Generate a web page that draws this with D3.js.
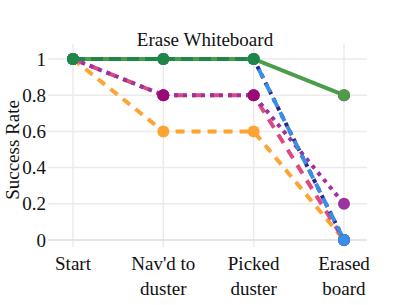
<!DOCTYPE html>
<html>
<head>
<meta charset="utf-8">
<script src="https://cdn.jsdelivr.net/npm/d3@7"></script>
<style>
  body { margin: 0; background: #fff; }
  text { font-family: "Liberation Serif", "Times New Roman", serif; fill: #111; }
</style>
</head>
<body>
<div id="chart"></div>
<script>
// chart size
const width = 407;
const height = 305;

// data
const categories = ["Start", "Nav'd to duster", "Picked duster", "Erased board"];
const orangeValues = [1, 0.6, 0.6, 0];
const pinkValues = [1, 0.8, 0.8, 0];
const purpleValues = [1, 0.8, 0.8, 0.2];
const magentaValues = [1, 0.8, 0.8, 0.8];
const navyValues = [1, 1, 1, 0];
const blueValues = [1, 1, 1, 0];
const greenValues = [1, 1, 1, 0.8];
const darkGreenValues = [1, 1, 1, 1];
const yTicks = [0, 0.2, 0.4, 0.6, 0.8, 1];

// series list, drawn in this order
const series = [
  { values: orangeValues, color: "#ffa433", dash: "9,7" },
  { values: pinkValues, color: "#e0467f", dash: "10,8" },
  { values: purpleValues, color: "#9a32a0", dash: "4,5" },
  { values: magentaValues, color: "#990a78", dash: "none", hideLine: true },
  { values: navyValues, color: "#2b2590", dash: "4,5" },
  { values: blueValues, color: "#3b8ee6", dash: "10,6" },
  { values: greenValues, color: "#4a9e4a", dash: "none" },
  { values: darkGreenValues, color: "#1e8748", dash: "12,6", noLast: true }
];

const svg = d3.select("#chart")
  .append("svg")
  .attr("width", width)
  .attr("height", height);

// scales
const x = d3.scalePoint()
  .domain(categories)
  .range([73, 344]);

const y = d3.scaleLinear()
  .domain([0, 1])
  .range([240, 59]);

// vertical grid lines
svg.append("g")
  .selectAll("line")
  .data(categories)
  .enter()
  .append("line")
  .attr("x1", d => x(d))
  .attr("x2", d => x(d))
  .attr("y1", 44)
  .attr("y2", 247)
  .attr("stroke", "#ebebeb")
  .attr("stroke-width", 1.5);

// horizontal grid lines
svg.append("g")
  .selectAll("line")
  .data(yTicks)
  .enter()
  .append("line")
  .attr("x1", 48)
  .attr("x2", 367)
  .attr("y1", d => y(d))
  .attr("y2", d => y(d))
  .attr("stroke", d => d === 0 ? "#dcdcdc" : "#ebebeb")
  .attr("stroke-width", 1.5);

// y tick labels
svg.append("g")
  .selectAll("text")
  .data(yTicks)
  .enter()
  .append("text")
  .attr("x", 46)
  .attr("y", d => y(d))
  .attr("dy", "0.35em")
  .attr("text-anchor", "end")
  .style("font-size", "19px")
  .text(d => d3.format("~g")(d));

// x tick labels, split on two lines
const xLabels = svg.append("g")
  .selectAll("text")
  .data(categories)
  .enter()
  .append("text")
  .attr("text-anchor", "middle")
  .style("font-size", "19px");

xLabels.each(function(d) {
  const words = d === "Start" ? ["Start"] :
    d === "Nav'd to duster" ? ["Nav'd to", "duster"] : d.split(" ");
  d3.select(this).selectAll("tspan")
    .data(words)
    .enter()
    .append("tspan")
    .attr("x", x(d))
    .attr("y", (w, i) => 270 + i * 25)
    .text(w => w);
});

// line generator
const line = d3.line()
  .x((d, i) => x(categories[i]))
  .y(d => y(d));

// lines
series.forEach(s => {
  if (s.hideLine) return;
  const vals = s.noLast ? s.values.slice(0, 3) : s.values;
  svg.append("path")
    .datum(vals)
    .attr("d", line)
    .attr("fill", "none")
    .attr("stroke", s.color)
    .attr("stroke-width", 4)
    .attr("stroke-dasharray", s.dash);
});

// markers
series.forEach(s => {
  const vals = s.noLast ? s.values.slice(0, 3) : s.values;
  svg.append("g")
    .selectAll("circle")
    .data(vals)
    .enter()
    .append("circle")
    .attr("cx", (d, i) => x(categories[i]))
    .attr("cy", d => y(d))
    .attr("r", 6)
    .attr("fill", s.color);
});

// title
svg.append("text")
  .attr("x", 205)
  .attr("y", 46)
  .attr("text-anchor", "middle")
  .style("font-size", "19px")
  .text("Erase Whiteboard");

// y axis title
svg.append("text")
  .attr("transform", "translate(19,150) rotate(-90)")
  .attr("text-anchor", "middle")
  .style("font-size", "19px")
  .text("Success Rate");
</script>
</body>
</html>
